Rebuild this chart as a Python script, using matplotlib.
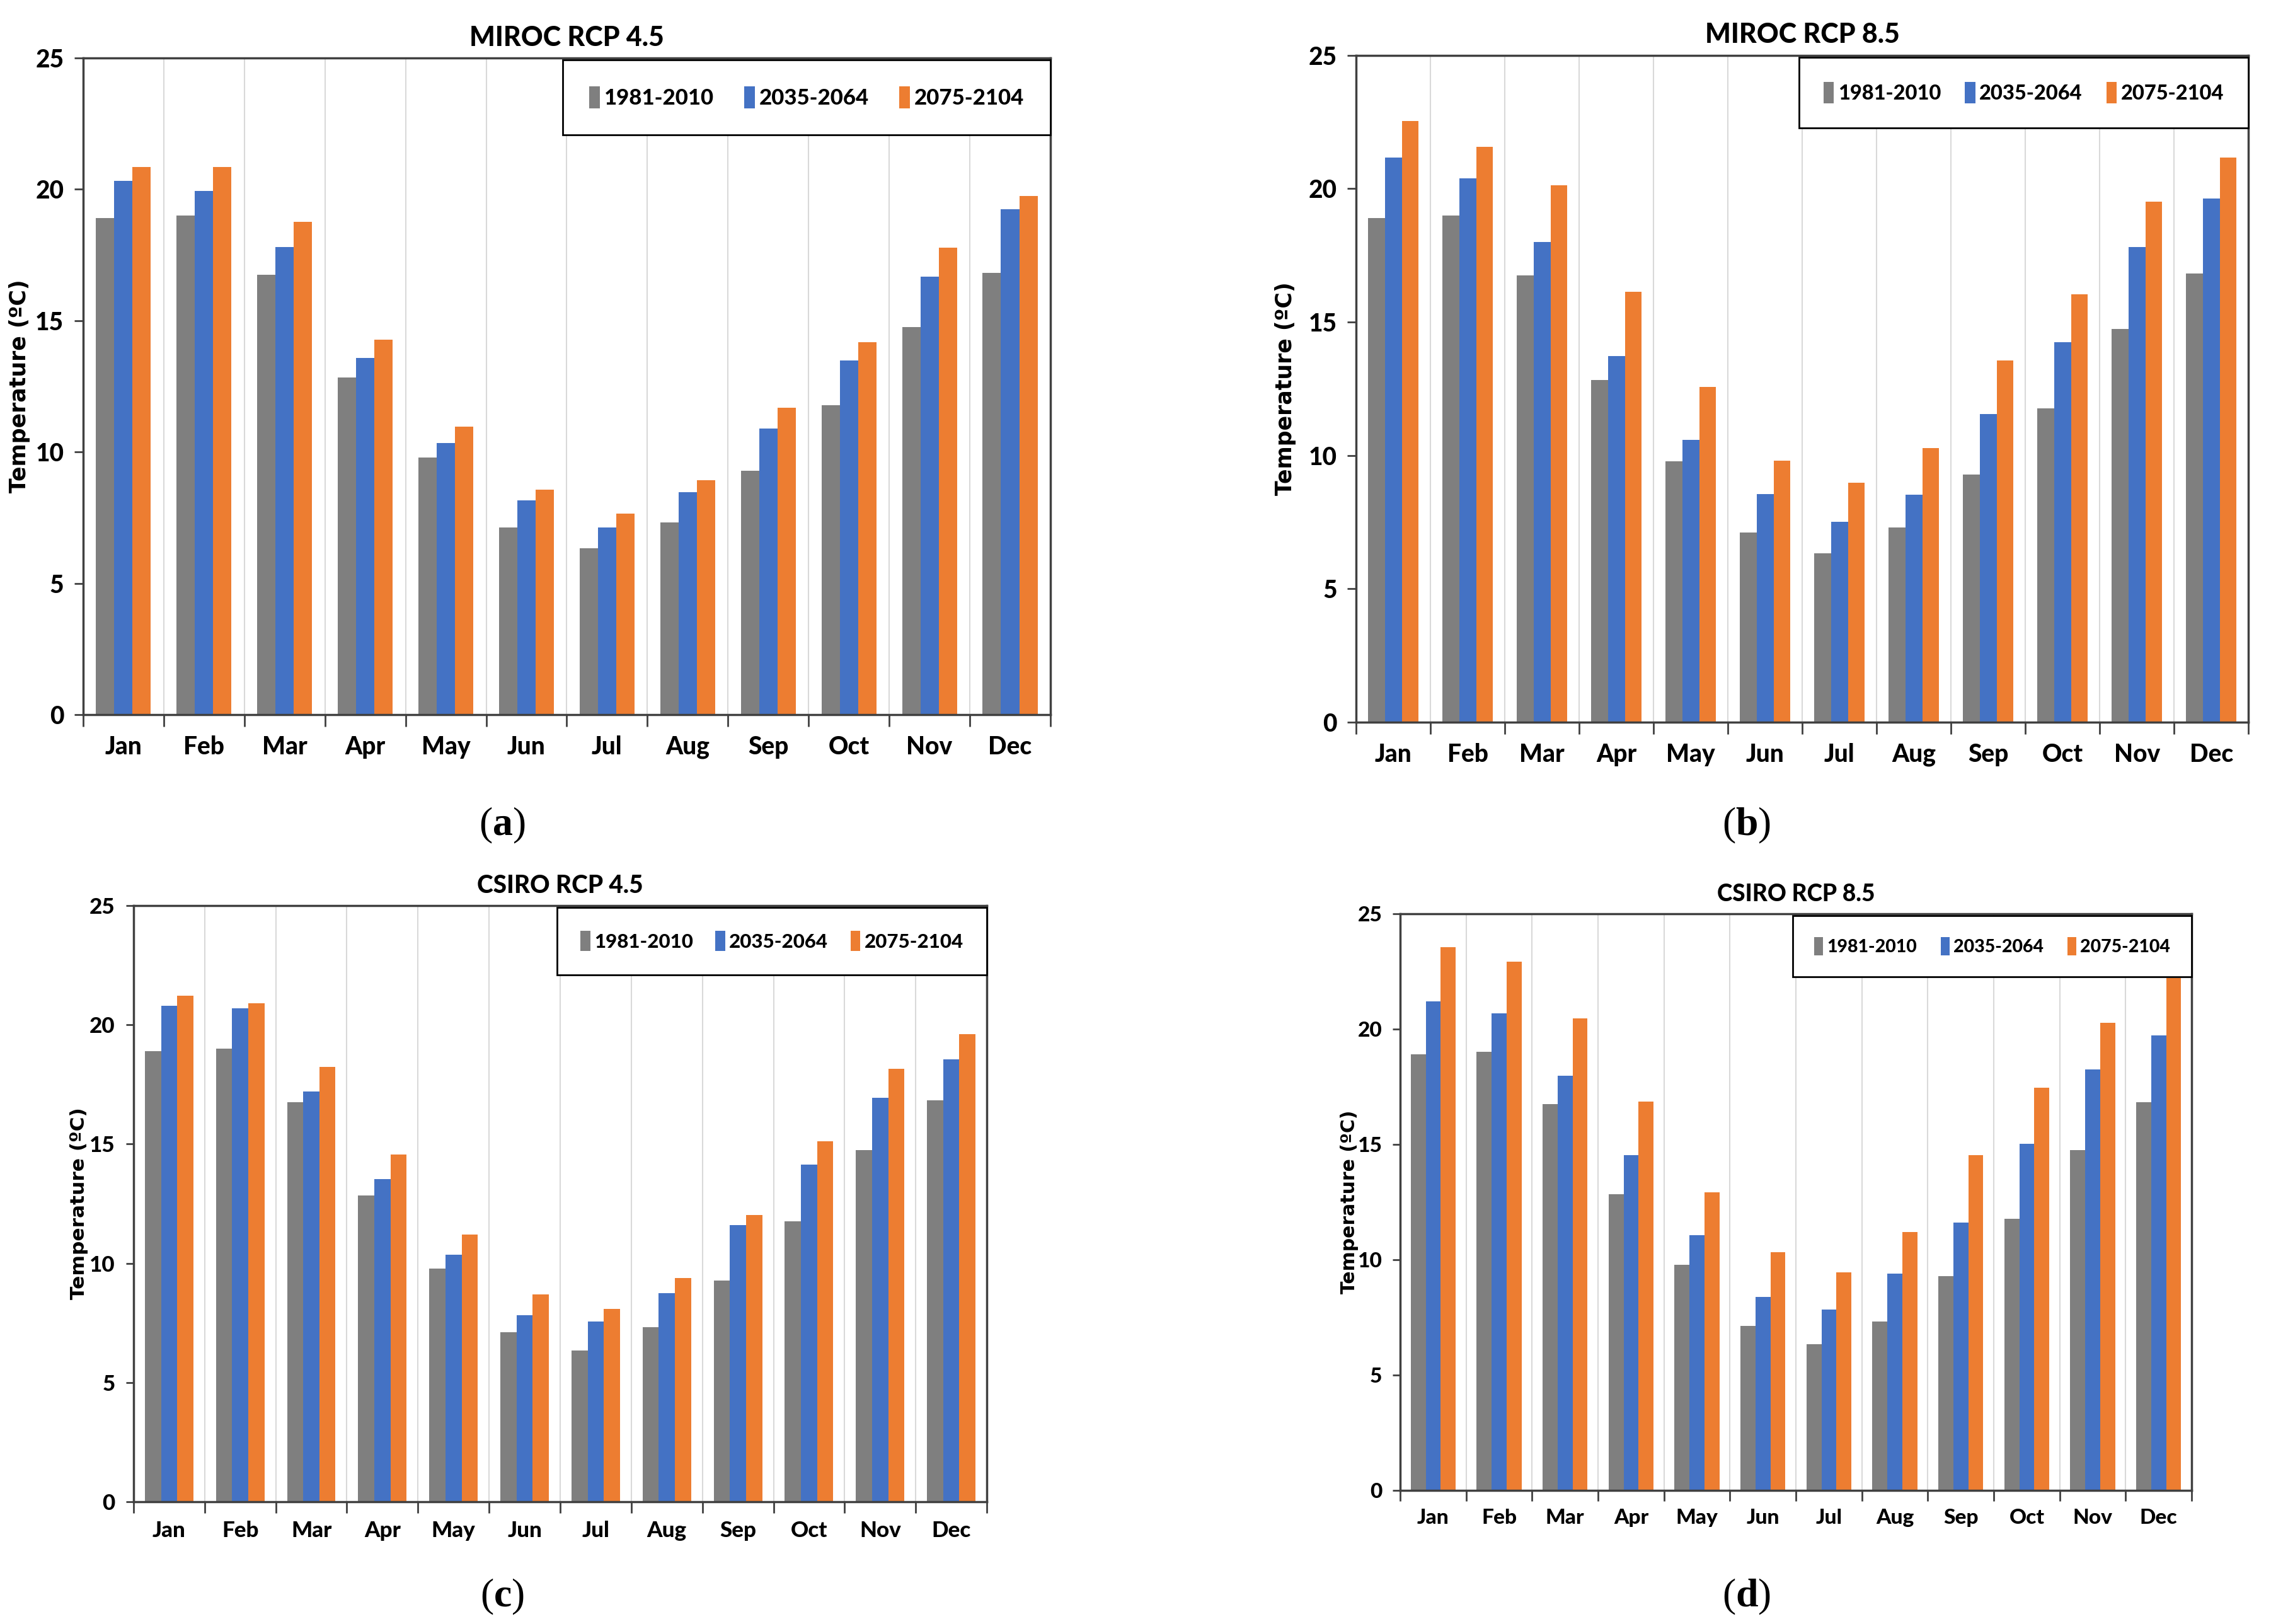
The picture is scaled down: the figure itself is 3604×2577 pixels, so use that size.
import numpy as np
import matplotlib
matplotlib.use("Agg")
import matplotlib.pyplot as plt

plt.rcParams['font.family'] = ['Lato', 'DejaVu Sans']
plt.rcParams['mathtext.fontset'] = 'custom'
plt.rcParams['mathtext.bf'] = 'Liberation Serif:bold'

months = ["Jan", "Feb", "Mar", "Apr", "May", "Jun",
          "Jul", "Aug", "Sep", "Oct", "Nov", "Dec"]
periods = ["1981-2010", "2035-2064", "2075-2104"]

# baseline is the same in every panel
base = [18.9, 19.0, 16.75, 12.83, 9.78, 7.12, 6.34, 7.31, 9.28, 11.77, 14.75, 16.82]

miroc45_mid = [20.33, 19.94, 17.79, 13.58, 10.33, 8.15, 7.12, 8.46, 10.88, 13.48, 16.67, 19.23]
miroc45_end = [20.85, 20.85, 18.75, 14.27, 10.96, 8.56, 7.65, 8.92, 11.69, 14.17, 17.77, 19.75]

miroc85_mid = [21.16, 20.4, 18.0, 13.72, 10.58, 8.55, 7.51, 8.54, 11.56, 14.25, 17.81, 19.63]
miroc85_end = [22.54, 21.56, 20.14, 16.14, 12.57, 9.8, 8.97, 10.28, 13.57, 16.05, 19.51, 21.18]

csiro45_mid = [20.8, 20.7, 17.21, 13.53, 10.35, 7.81, 7.56, 8.75, 11.6, 14.13, 16.94, 18.54]
csiro45_end = [21.22, 20.91, 18.23, 14.57, 11.2, 8.69, 8.08, 9.39, 12.01, 15.11, 18.16, 19.62]

csiro85_mid = [21.2, 20.67, 17.98, 14.53, 11.05, 8.39, 7.85, 9.4, 11.61, 15.02, 18.26, 19.72]
csiro85_end = [23.56, 22.92, 20.45, 16.85, 12.92, 10.32, 9.44, 11.2, 14.53, 17.45, 20.26, 22.2]

colors = ["#7f7f7f", "#4472c4", "#ed7d31"]

fig = plt.figure(figsize=(36.05, 25.77), dpi=100)

# title, series, axes rect, ylabel x, text scale, legend font, letter
panels = [
    ("MIROC RCP 4.5", miroc45_mid, miroc45_end, [0.0366, 0.560, 0.4258, 0.4043], -0.055, 1.0, 25, "a"),
    ("MIROC RCP 8.5", miroc85_mid, miroc85_end, [0.597, 0.5553, 0.3928, 0.4106], -0.067, 1.0, 23.5, "b"),
    ("CSIRO RCP 4.5", csiro45_mid, csiro45_end, [0.0588, 0.0753, 0.3756, 0.3671], -0.053, 0.9, 22.5, "c"),
    ("CSIRO RCP 8.5", csiro85_mid, csiro85_end, [0.6164, 0.0823, 0.3484, 0.3551], -0.053, 0.86, 20.5, "d"),
]

x = np.arange(len(months))
w = 0.227

for title, mid, end, pos, ylx, sc, lfs, tag in panels:
    ax = fig.add_axes(pos)
    series = [base, mid, end]
    for i in range(3):
        ax.bar(x + (i - 1) * w, series[i], width=w, color=colors[i],
               label=periods[i], zorder=2)
    ax.set_xlim(-0.5, 11.5)
    ax.set_ylim(0, 25)
    ax.set_yticks([0, 5, 10, 15, 20, 25])
    ax.set_xticks(x)
    ax.set_xticklabels(months)
    ax.set_xticks(np.arange(-0.5, 12, 1), minor=True)
    ax.tick_params(axis='x', which='major', length=0, pad=24 * sc, labelsize=28 * sc)
    ax.tick_params(axis='x', which='minor', length=14 * sc, width=2, color='#404040')
    ax.tick_params(axis='y', length=10 * sc, width=2, color='#404040', labelsize=28 * sc, pad=12)
    for lab in ax.get_xticklabels() + ax.get_yticklabels():
        lab.set_fontweight('black')
    ax.grid(axis='x', which='minor', color='#d9d9d9', lw=1.5, zorder=0)
    ax.grid(axis='x', which='major', visible=False)
    for s in ['left', 'bottom', 'top', 'right']:
        ax.spines[s].set_color('#404040')
        ax.spines[s].set_linewidth(2.5)
    ax.set_title(title, fontsize=31 * sc, fontweight='black', pad=14)
    ax.set_ylabel("Temperature (ºC)", fontsize=25 * sc, fontweight='bold',
                  family='DejaVu Sans')
    ax.yaxis.set_label_coords(ylx, 0.5)
    leg = ax.legend(loc='upper right', bbox_to_anchor=(0.496, 0, 0.504, 0.997),
                    mode='expand', ncol=3, fontsize=lfs, frameon=True,
                    fancybox=False, edgecolor='black', framealpha=1,
                    borderaxespad=0, borderpad=1.2, handlelength=0.5,
                    handleheight=1.2, handletextpad=0.2, columnspacing=0.8)
    leg.get_frame().set_linewidth(2)
    leg.set_zorder(5)
    for t in leg.get_texts():
        t.set_fontweight('black')
    # panel letter below the axes
    fig.text(0.221 if tag in "ac" else 0.7687,
             0.4917 if tag in "ab" else 0.0168,
             r"($\mathbf{" + tag + "}$)", fontsize=46, ha='center', va='center',
             family='Liberation Serif')

fig.savefig("out.png", dpi=100, facecolor='white')
